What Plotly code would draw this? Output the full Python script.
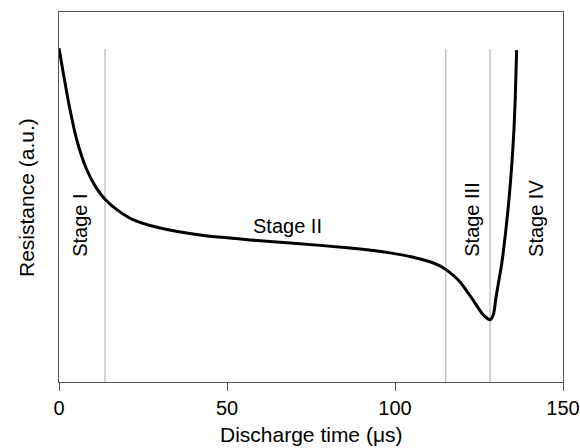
import plotly.graph_objects as go

# Data
time_us = [0, 1.3, 3.1, 5.3, 8.2, 11.0, 13.7, 17.2, 22.0, 30.1, 42.0, 56.8, 68.8, 86.6,
           98.5, 106.0, 110.4, 113.4, 115.3, 119.3, 123.2, 126.3, 128.3, 129.3, 130.1,
           131.8, 133.0, 134.0, 134.8, 135.4, 135.8, 136.2]
resistance = [90.2, 83.4, 74.4, 65.4, 57.5, 52.6, 49.4, 46.6, 43.9, 41.6, 39.7, 38.4, 37.6,
              36.2, 34.9, 33.6, 32.5, 31.4, 30.3, 27.1, 22.2, 18.1, 16.8, 18.3, 23.1,
              32.2, 41.1, 50.1, 59.2, 68.1, 77.1, 89.7]

stage_bounds = [13.7, 115.1, 128.3]
bound_top = 90.0

stage_labels = ["Stage I", "Stage II", "Stage III", "Stage IV"]
stage_x = [6.25, 67.9, 122.9, 142.0]
stage_y = [42.2, 42.2, 44.1, 44.1]
stage_angle = [-90, 0, -90, -90]

x_ticks = [0, 50, 100, 150]

FONT = "Liberation Sans, Arial, sans-serif"

fig = go.Figure()

for b in stage_bounds:
    fig.add_trace(go.Scatter(x=[b, b], y=[0, bound_top], mode="lines",
                             line=dict(color="#c4c4c4", width=1.5),
                             hoverinfo="skip", showlegend=False))

fig.add_trace(go.Scatter(x=time_us, y=resistance, mode="lines",
                         line=dict(color="black", width=3, shape="spline", smoothing=0.6),
                         showlegend=False))

for lab, sx, sy, ang in zip(stage_labels, stage_x, stage_y, stage_angle):
    fig.add_annotation(x=sx, y=sy, xref="x", yref="y", text=lab, showarrow=False,
                       textangle=ang, font=dict(family=FONT, size=20, color="black"),
                       xanchor="center", yanchor="middle")

fig.add_annotation(x=0.5, y=-0.1432, xref="paper", yref="paper",
                   text="Discharge time (μs)", showarrow=False,
                   font=dict(family=FONT, size=21, color="black"),
                   xanchor="center", yanchor="middle")
fig.add_annotation(x=-0.0655, y=0.5, xref="paper", yref="paper",
                   text="Resistance (a.u.)", showarrow=False, textangle=-90,
                   font=dict(family=FONT, size=21, color="black"),
                   xanchor="center", yanchor="middle")

fig.update_layout(
    width=580, height=448,
    margin=dict(l=59, r=17, t=12, b=66, autoexpand=False),
    paper_bgcolor="white", plot_bgcolor="white",
    font=dict(family=FONT, size=20, color="black"),
    showlegend=False,
)
fig.update_xaxes(range=[0, 150], tickvals=x_ticks, ticks="outside", ticklen=8,
                 tickcolor="#555", showline=True, linecolor="#555", linewidth=1,
                 mirror=True, showgrid=False, zeroline=False,
                 tickfont=dict(family=FONT, size=20, color="black"))
fig.update_yaxes(range=[0, 100], showticklabels=False, ticks="", showline=True,
                 linecolor="#555", linewidth=1, mirror=True, showgrid=False,
                 zeroline=False)

fig.write_html(
    "out.html",
    config={"displayModeBar": False},
    post_script="document.body.style.margin='0';document.body.style.overflow='hidden';",
)
